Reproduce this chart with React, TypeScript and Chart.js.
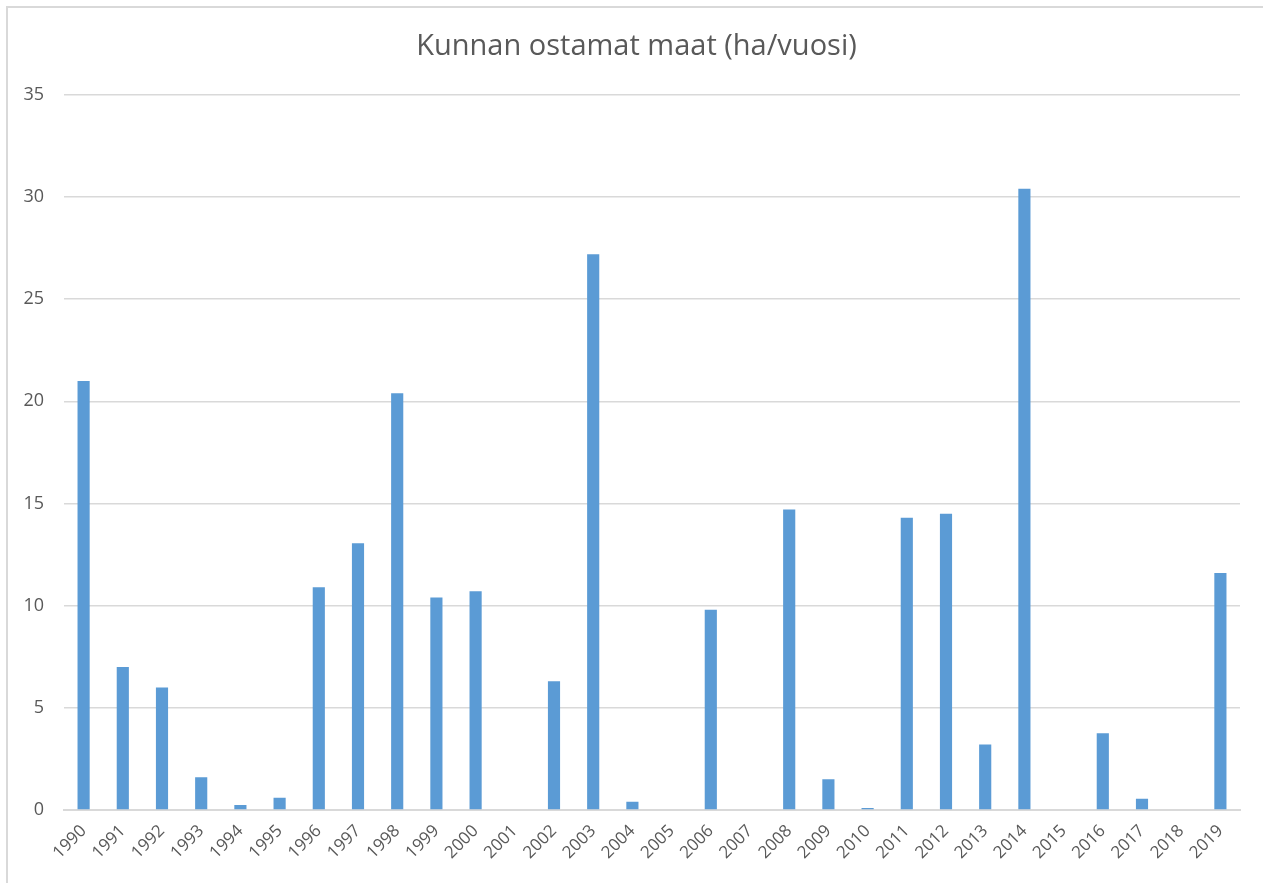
import React, { useEffect, useRef } from "react";
import { Chart, registerables } from "chart.js";

Chart.register(...registerables);

const years = [
  "1990", "1991", "1992", "1993", "1994", "1995", "1996", "1997", "1998", "1999",
  "2000", "2001", "2002", "2003", "2004", "2005", "2006", "2007", "2008", "2009",
  "2010", "2011", "2012", "2013", "2014", "2015", "2016", "2017", "2018", "2019",
];

const hectares = [
  21.0, 7.0, 6.0, 1.6, 0.25, 0.6, 10.9, 13.05, 20.4, 10.4,
  10.7, 0, 6.3, 27.2, 0.4, 0, 9.8, 0, 14.7, 1.5,
  0.1, 14.3, 14.5, 3.2, 30.4, 0, 3.75, 0.55, 0, 11.6,
];

const titleText = "Kunnan ostamat maat (ha/vuosi)";
const yMax = 35;
const yStep = 5;

export default function App() {
  const canvasRef = useRef<HTMLCanvasElement | null>(null);

  useEffect(() => {
    if (!canvasRef.current) return;
    const chart = new Chart(canvasRef.current, {
      type: "bar",
      data: {
        labels: years,
        datasets: [
          {
            label: "ha/vuosi",
            data: hectares,
            backgroundColor: "#5b9bd5",
            borderWidth: 0,
            categoryPercentage: 1,
            barPercentage: 0.31,
            yAxisID: "y",
          },
        ],
      },
      options: {
        animation: false,
        responsive: false,
        maintainAspectRatio: false,
        layout: { padding: { top: 20, right: 0, bottom: 0, left: 8 } },
        plugins: {
          legend: { display: false },
          tooltip: { enabled: false },
          title: {
            display: true,
            text: titleText,
            color: "#595959",
            font: { family: "Open Sans", size: 29, weight: "normal" },
            padding: { top: 9, bottom: 31 },
          },
        },
        scales: {
          x: {
            grid: { display: false, drawTicks: false },
            border: { display: true, color: "#d9d9d9", width: 2 },
            ticks: {
              color: "#595959",
              font: { family: "Open Sans", size: 17 },
              maxRotation: 45,
              minRotation: 45,
              autoSkip: false,
              padding: 11,
            },
            afterFit: (scale: any) => {
              scale.height = 73;
            },
          },
          y: {
            min: 0,
            max: yMax,
            grid: { color: "#d9d9d9", lineWidth: 1.5, drawTicks: false },
            border: { display: false },
            ticks: {
              stepSize: yStep,
              color: "#595959",
              font: { family: "Open Sans", size: 18 },
              padding: 20,
            },
            afterFit: (scale: any) => {
              scale.width = 56;
            },
          },
          yRight: {
            position: "right",
            display: true,
            min: 0,
            max: yMax,
            grid: { display: false, drawTicks: false },
            border: { display: false },
            ticks: { display: false },
            afterFit: (scale: any) => {
              scale.width = 25;
            },
          },
        },
      },
    });
    return () => chart.destroy();
  }, []);

  return (
    <div style={{ position: "absolute", left: 0, top: 0, width: 1265, height: 883, background: "#fff" }}>
      <div
        style={{
          position: "absolute",
          left: 6,
          top: 6,
          width: 1257,
          height: 877,
          borderTop: "2px solid #d9d9d9",
          borderLeft: "2px solid #d9d9d9",
          boxSizing: "border-box",
        }}
      />
      <canvas
        ref={canvasRef}
        width={1265}
        height={883}
        style={{ position: "absolute", left: 0, top: 0, width: 1265, height: 883 }}
      />
    </div>
  );
}
